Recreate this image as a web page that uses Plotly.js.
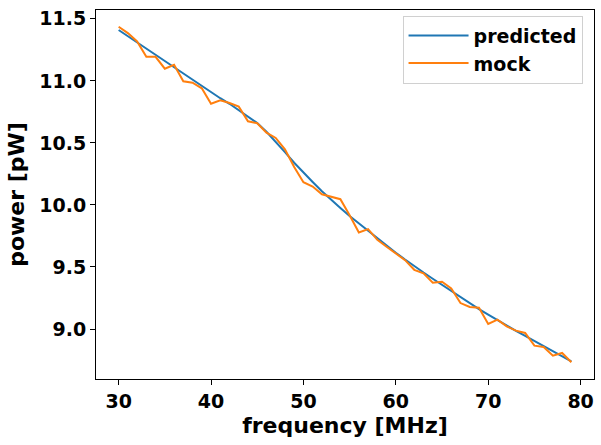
<!DOCTYPE html>
<html>
<head>
<meta charset="utf-8">
<script src="https://cdn.plot.ly/plotly-3.0.1.min.js"></script>
<style>
  html, body { margin: 0; padding: 0; background: #fff; }
  #chart { width: 601px; height: 445px; }
</style>
</head>
<body>
<div id="chart"></div>
<script>
// frequency grid, 30..79 MHz
const frequency = [30, 31, 32, 33, 34, 35, 36, 37, 38, 39,
  40, 41, 42, 43, 44, 45, 46, 47, 48, 49,
  50, 51, 52, 53, 54, 55, 56, 57, 58, 59,
  60, 61, 62, 63, 64, 65, 66, 67, 68, 69,
  70, 71, 72, 73, 74, 75, 76, 77, 78, 79];

// smooth model curve (pW)
const predicted = [11.41, 11.36, 11.31, 11.26, 11.21, 11.16, 11.11, 11.06, 11.01, 10.955,
  10.905, 10.86, 10.815, 10.765, 10.715, 10.66, 10.59, 10.51, 10.425, 10.34,
  10.26, 10.185, 10.11, 10.04, 9.975, 9.91, 9.85, 9.79, 9.73, 9.67,
  9.615, 9.56, 9.505, 9.455, 9.405, 9.355, 9.305, 9.255, 9.205, 9.16,
  9.115, 9.07, 9.025, 8.985, 8.945, 8.905, 8.865, 8.825, 8.785, 8.74];

// noisy mock measurement (pW)
const mock = [11.436, 11.385, 11.318, 11.194, 11.194, 11.098, 11.13, 10.996, 10.985, 10.94,
  10.816, 10.843, 10.821, 10.792, 10.674, 10.658, 10.583, 10.54, 10.448, 10.306,
  10.183, 10.148, 10.086, 10.065, 10.046, 9.917, 9.778, 9.805, 9.719, 9.663,
  9.609, 9.555, 9.477, 9.448, 9.373, 9.381, 9.327, 9.209, 9.177, 9.172,
  9.04, 9.075, 9.021, 8.987, 8.968, 8.866, 8.855, 8.785, 8.807, 8.732];

const seriesNames = ["predicted", "mock"];
const seriesColors = ["#1f77b4", "#ff7f0e"];

const data = [
  {
    x: frequency,
    y: predicted,
    name: seriesNames[0],
    type: "scatter",
    mode: "lines",
    line: { color: seriesColors[0], width: 2 },
  },
  {
    x: frequency,
    y: mock,
    name: seriesNames[1],
    type: "scatter",
    mode: "lines",
    line: { color: seriesColors[1], width: 2 },
  },
];

const font = { family: "DejaVu Sans", color: "#000", weight: "bold" };

const layout = {
  width: 601,
  height: 445,
  margin: { l: 96, r: 7, t: 10, b: 66 },
  paper_bgcolor: "#fff",
  plot_bgcolor: "#fff",
  font: { ...font, size: 19 },
  showlegend: true,
  legend: {
    x: 0.977,
    y: 0.985,
    xanchor: "right",
    yanchor: "top",
    bgcolor: "rgba(255,255,255,0.8)",
    bordercolor: "#d0d0d0",
    borderwidth: 1,
    itemwidth: 60,
    font: { ...font, size: 19 },
    tracegroupgap: 0,
  },
  xaxis: {
    range: [27.55, 81.45],
    tick0: 30,
    dtick: 10,
    ticks: "outside",
    ticklen: 5,
    tickwidth: 1,
    tickcolor: "#000",
    showline: true,
    mirror: true,
    linecolor: "#000",
    linewidth: 1,
    showgrid: false,
    zeroline: false,
    tickfont: { ...font, size: 19 },
    title: { text: "frequency [MHz]", font: { ...font, size: 22 }, standoff: 6 },
  },
  yaxis: {
    range: [8.597, 11.571],
    tick0: 9,
    dtick: 0.5,
    tickformat: ".1f",
    ticks: "outside",
    ticklen: 5,
    tickwidth: 1,
    tickcolor: "#000",
    showline: true,
    mirror: true,
    linecolor: "#000",
    linewidth: 1,
    showgrid: false,
    zeroline: false,
    tickfont: { ...font, size: 19 },
    title: { text: "power [pW]", font: { ...font, size: 22 }, standoff: 8 },
  },
};

Plotly.newPlot("chart", data, layout, { staticPlot: true, displayModeBar: false });
</script>
</body>
</html>
